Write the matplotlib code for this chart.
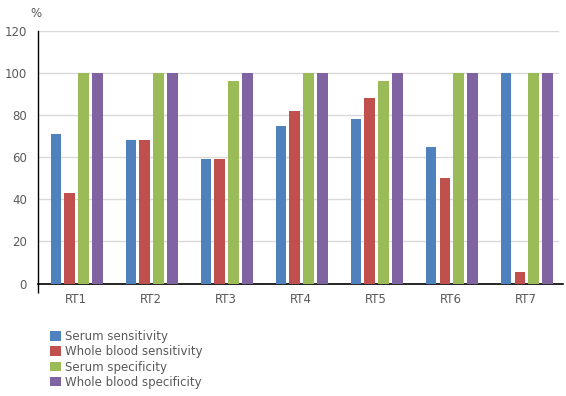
import numpy as np
import matplotlib.pyplot as plt
from matplotlib.patches import Patch

categories = ['RT1', 'RT2', 'RT3', 'RT4', 'RT5', 'RT6', 'RT7']
serum_sens = [71, 68, 59, 75, 78, 65, 100]
blood_sens = [43, 68, 59, 82, 88, 50, 5.5]
serum_spec = [100, 100, 96, 100, 96, 100, 100]
blood_spec = [100, 100, 100, 100, 100, 100, 100]
series_names = ['Serum sensitivity', 'Whole blood sensitivity',
                'Serum specificity', 'Whole blood specificity']
colors = ['#4F81BD', '#C0504D', '#9BBB59', '#8064A2']

fig = plt.figure(figsize=(5.66, 3.96), dpi=100)
ax = fig.add_axes([0.067, 0.284, 0.928, 0.638])

x = np.arange(len(categories))
slot = 0.184
all_series = [serum_sens, blood_sens, serum_spec, blood_spec]
for i, (vals, c) in enumerate(zip(all_series, colors)):
    ax.bar(x + (i - 1.5) * slot + 0.015, vals, width=0.142, color=c, zorder=3)

ax.set_xlim(-0.5, len(categories) - 0.5)
ax.set_ylim(0, 120)
ax.set_yticks(range(0, 121, 20))
ax.set_xticks(x)
ax.set_xticklabels(categories)
ax.set_xticks([-0.5], minor=True)
ax.tick_params(axis='x', which='major', length=0, pad=7, labelsize=8.5, labelcolor='#595959')
ax.tick_params(axis='x', which='minor', length=6.5, width=1, color='black')
ax.tick_params(axis='y', length=0, pad=8, labelsize=8.5, labelcolor='#595959')

# gridlines stop a little short of the right edge
for yv in range(20, 121, 20):
    ax.plot([-0.5, 6.43], [yv, yv], color='#D9D9D9', linewidth=1, zorder=0)
for s in ['top', 'right']:
    ax.spines[s].set_visible(False)
ax.spines['left'].set_color('black')
ax.spines['bottom'].set_color('black')
ax.spines['left'].set_linewidth(1)
ax.spines['bottom'].set_linewidth(1.2)

fig.text(0.053, 0.965, '%', fontsize=8.5, color='#595959', ha='left', va='center')

handles = [Patch(facecolor=c) for c in colors]
fig.legend(handles, series_names, loc='upper left', bbox_to_anchor=(0.089, 0.166),
           frameon=False, fontsize=8.5, handlelength=0.9, handleheight=0.9,
           handletextpad=0.3, labelspacing=0.18, borderaxespad=0, borderpad=0,
           labelcolor='#595959')

fig.savefig('out.png', dpi=100)
